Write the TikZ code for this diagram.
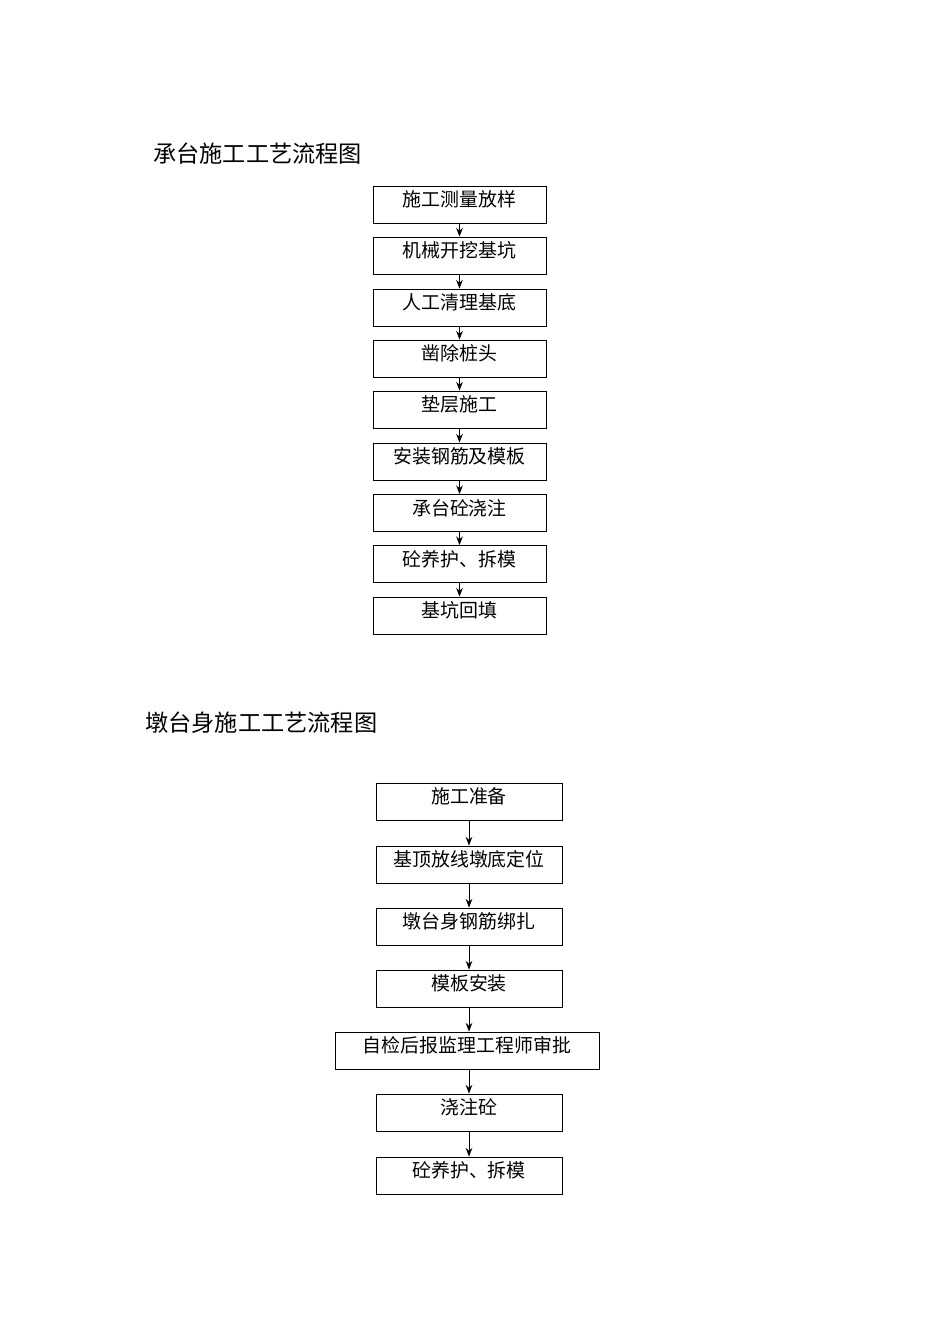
\documentclass[tikz,border=0pt]{standalone}
\usepackage{fontspec}
\usetikzlibrary{arrows.meta}
\newfontfamily\cjk{Noto Sans CJK SC}
\begin{document}
\begin{tikzpicture}[x=0.75pt,y=-0.75pt,
  box/.style={draw,line width=0.65pt,inner sep=0pt,font=\cjk\fontsize{14.2pt}{15pt}\selectfont,
    text height=10pt,text depth=7pt},
  boxa/.style={box,minimum width=173*0.75pt,minimum height=37*0.75pt},
  boxb/.style={box,minimum width=186*0.75pt,minimum height=37*0.75pt},
  boxc/.style={box,minimum width=264*0.75pt,minimum height=37*0.75pt},
  ttl/.style={font=\cjk\fontsize{17.4pt}{18pt}\selectfont,anchor=west,inner sep=0pt},
  arr/.style={line width=0.7pt,-{Stealth[length=6.5pt,width=5pt]}}]
\useasboundingbox[fill=white] (0,0) rectangle (950,1344);
\node[ttl] (t1) at (153,154) {承台施工工艺流程图};
\node[boxa] (a1) at (459.5,204.5) {施工测量放样};
\node[boxa] (a2) at (459.5,255.5) {机械开挖基坑};
\node[boxa] (a3) at (459.5,307.5) {人工清理基底};
\node[boxa] (a4) at (459.5,358.5) {凿除桩头};
\node[boxa] (a5) at (459.5,409.5) {垫层施工};
\node[boxa] (a6) at (459.5,461.5) {安装钢筋及模板};
\node[boxa] (a7) at (459.5,513) {承台砼浇注};
\node[boxa] (a8) at (459.5,564) {砼养护、拆模};
\node[boxa] (a9) at (459.5,615.5) {基坑回填};
\foreach \i/\j in {a1/a2,a2/a3,a3/a4,a4/a5,a5/a6,a6/a7,a7/a8,a8/a9}
  \draw[arr] (\i.south) -- (\j.north);
\node[ttl] (t2) at (145,723) {墩台身施工工艺流程图};
\node[boxb] (b1) at (469,801.5) {施工准备};
\node[boxb] (b2) at (469,864.5) {基顶放线墩底定位};
\node[boxb] (b3) at (469,926.5) {墩台身钢筋绑扎};
\node[boxb] (b4) at (469,988.5) {模板安装};
\node[boxc] (b5) at (467,1050.5) {自检后报监理工程师审批};
\node[boxb] (b6) at (469,1112.5) {浇注砼};
\node[boxb] (b7) at (469,1175.5) {砼养护、拆模};
\draw[arr] (b1.south) -- (b2.north);
\draw[arr] (b2.south) -- (b3.north);
\draw[arr] (b3.south) -- (b4.north);
\draw[arr] (b4.south) -- (b4.south |- b5.north);
\draw[arr] (b4.south |- b5.south) -- (b6.north);
\draw[arr] (b6.south) -- (b7.north);
\end{tikzpicture}
\end{document}
